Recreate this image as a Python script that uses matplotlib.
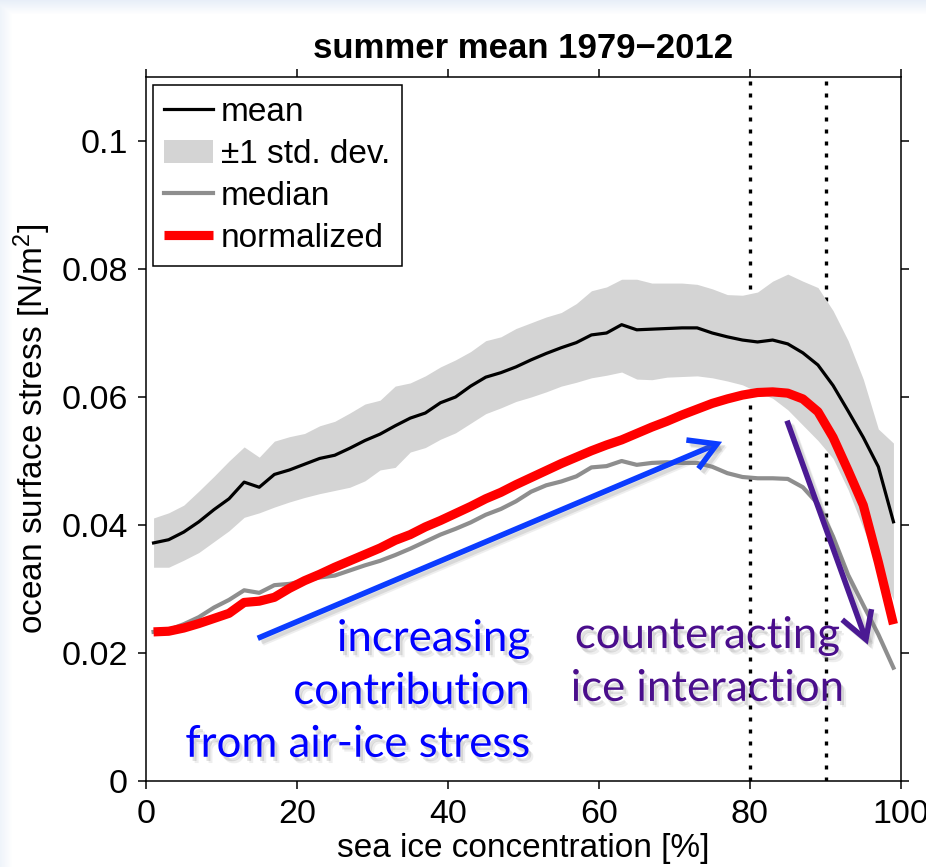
import numpy as np
import matplotlib
matplotlib.use("Agg")
import matplotlib.pyplot as plt
import matplotlib.patheffects as pe

# ---- data: sea ice concentration bins [%] and ocean surface stress [N/m^2]
concentration = list(range(1, 100, 2))

mean_stress = [0.0372, 0.0377, 0.0389, 0.0405, 0.0424, 0.0441, 0.0467, 0.0459, 0.0479, 0.0486,
               0.0495, 0.0504, 0.0509, 0.0520, 0.0532, 0.0542, 0.0555, 0.0567, 0.0575, 0.0591,
               0.0600, 0.0617, 0.0631, 0.0638, 0.0647, 0.0658, 0.0668, 0.0677, 0.0685, 0.0697,
               0.0700, 0.0713, 0.0705, 0.0706, 0.0707, 0.0708, 0.0708, 0.0700, 0.0694, 0.0689,
               0.0686, 0.0689, 0.0683, 0.0669, 0.0650, 0.0618, 0.0578, 0.0537, 0.0491, 0.0405]

std_upper = [0.0411, 0.0419, 0.0431, 0.0453, 0.0476, 0.0500, 0.0522, 0.0506, 0.0531, 0.0538,
             0.0543, 0.0555, 0.0562, 0.0575, 0.0589, 0.0595, 0.0617, 0.0622, 0.0633, 0.0647,
             0.0658, 0.0671, 0.0688, 0.0694, 0.0707, 0.0716, 0.0725, 0.0732, 0.0746, 0.0766,
             0.0772, 0.0784, 0.0784, 0.0778, 0.0778, 0.0778, 0.0776, 0.0769, 0.0760, 0.0759,
             0.0764, 0.0781, 0.0792, 0.0781, 0.0771, 0.0735, 0.0688, 0.0628, 0.0550, 0.0528]

std_lower = [0.0334, 0.0334, 0.0345, 0.0357, 0.0374, 0.0391, 0.0412, 0.0419, 0.0428, 0.0436,
             0.0443, 0.0449, 0.0454, 0.0459, 0.0469, 0.0486, 0.0490, 0.0514, 0.0521, 0.0534,
             0.0544, 0.0559, 0.0574, 0.0583, 0.0593, 0.0600, 0.0608, 0.0617, 0.0623, 0.0630,
             0.0634, 0.0639, 0.0628, 0.0627, 0.0631, 0.0632, 0.0633, 0.0630, 0.0625, 0.0619,
             0.0608, 0.0598, 0.0580, 0.0556, 0.0532, 0.0504, 0.0455, 0.0395, 0.0337, 0.0283]

median_stress = [0.0233, 0.0236, 0.0245, 0.0256, 0.0271, 0.0283, 0.0298, 0.0294, 0.0306, 0.0308,
                 0.0313, 0.0318, 0.0321, 0.0329, 0.0337, 0.0344, 0.0353, 0.0363, 0.0374, 0.0385,
                 0.0394, 0.0404, 0.0416, 0.0425, 0.0437, 0.0452, 0.0462, 0.0468, 0.0476, 0.0490,
                 0.0492, 0.0500, 0.0494, 0.0497, 0.0498, 0.0497, 0.0497, 0.0491, 0.0481, 0.0475,
                 0.0473, 0.0473, 0.0472, 0.0459, 0.0433, 0.0382, 0.0322, 0.0275, 0.0229, 0.0177]

normalized_stress = [0.0233, 0.0234, 0.0239, 0.0246, 0.0254, 0.0262, 0.0279, 0.0281, 0.0287, 0.0301,
                     0.0313, 0.0323, 0.0334, 0.0344, 0.0354, 0.0364, 0.0376, 0.0385, 0.0397, 0.0407,
                     0.0418, 0.0429, 0.0441, 0.0451, 0.0463, 0.0474, 0.0485, 0.0496, 0.0506, 0.0516,
                     0.0525, 0.0533, 0.0543, 0.0553, 0.0562, 0.0572, 0.0581, 0.0590, 0.0597, 0.0603,
                     0.0607, 0.0608, 0.0606, 0.0597, 0.0577, 0.0537, 0.0485, 0.0431, 0.0342, 0.0245]

threshold_lines = [80, 90]

x_ticks = [0, 20, 40, 60, 80, 100]
x_tick_labels = ["0", "20", "40", "60", "80", "100"]
y_ticks = [0, 0.02, 0.04, 0.06, 0.08, 0.1]
y_tick_labels = ["0", "0.02", "0.04", "0.06", "0.08", "0.1"]

# annotation arrows (tail, head) in data coordinates
blue_arrow = ((14.8, 0.0223), (76.3, 0.0530))
purple_arrow = ((84.9, 0.0563), (95.6, 0.0213))

# ---- styling
plt.rcParams["font.family"] = ["Liberation Sans", "DejaVu Sans"]
plt.rcParams["mathtext.fontset"] = "custom"
plt.rcParams["mathtext.rm"] = "Liberation Sans"
plt.rcParams["mathtext.it"] = "Liberation Sans"

fig = plt.figure(figsize=(9.26, 8.67), dpi=100)

# faint slide-style background band along the top and left edge
bg = fig.add_axes([0, 0, 1, 1], zorder=-10)
bg.set_axis_off()
H, W = 867, 926
img = np.ones((H, W, 3))
top = np.clip(1 - np.arange(H) / 14.0, 0, 1)[:, None]
left = np.clip(1 - np.arange(W) / 12.0, 0, 1)[None, :]
tint = np.array([0.90, 0.93, 0.97])
w = np.maximum(top * 0.9, left * 0.6)
img = img * (1 - w[..., None]) + tint * w[..., None]
bg.imshow(img, extent=[0, 1, 0, 1], aspect="auto")

ax = fig.add_axes([146 / 926, 1 - 781 / 867, 755 / 926, 704 / 867])

for xv in threshold_lines:
    ax.axvline(xv, color="black", lw=2.4, linestyle=(0, (1.2, 2.4)),
               dash_capstyle="butt", zorder=1)

ax.fill_between(concentration, std_lower, std_upper, color="#d4d4d4", lw=0,
                zorder=2, label="\u00b11 std. dev.")
ax.plot(concentration, mean_stress, color="black", lw=2.3, zorder=3, label="mean")
ax.plot(concentration, median_stress, color="#8e8e8e", lw=3.0, zorder=3, label="median")
ax.plot(concentration, normalized_stress, color="#ff0000", lw=6.6, zorder=4,
        solid_capstyle="butt", label="normalized")

ax.set_xlim(0, 100)
ax.set_ylim(0, 0.11)
ax.set_xticks(x_ticks)
ax.set_xticklabels(x_tick_labels)
ax.set_yticks(y_ticks)
ax.set_yticklabels(y_tick_labels)
ax.tick_params(direction="out", length=6, width=1.1, labelsize=24.5, pad=7,
               top=True, right=True, colors="black")
for s in ax.spines.values():
    s.set_linewidth(1.1)

ax.set_title("summer mean 1979\u22122012", fontsize=25, fontweight="bold", pad=14)
ax.set_xlabel("sea ice concentration [%]", fontsize=24, labelpad=2)
ax.set_ylabel("ocean surface stress [N/m$^2$]", fontsize=24, labelpad=6)

handles, labels = ax.get_legend_handles_labels()
order = [labels.index(k) for k in ["mean", "\u00b11 std. dev.", "median", "normalized"]]
leg = ax.legend([handles[i] for i in order], [labels[i] for i in order],
                loc="upper left", bbox_to_anchor=(0.009, 0.988), borderaxespad=0,
                fontsize=24, frameon=True, fancybox=False, edgecolor="black",
                framealpha=1, handlelength=1.45, handletextpad=0.25,
                labelspacing=0.33, borderpad=0.35)
leg.get_frame().set_linewidth(1.1)

# annotations with a soft drop shadow
def soft_shadow(scale=1.0):
    return [pe.SimpleLineShadow(offset=(2.5, -2.5), shadow_color="#777777", alpha=0.18 * scale),
            pe.SimpleLineShadow(offset=(3.5, -3.5), shadow_color="#777777", alpha=0.12 * scale),
            pe.Normal()]

def text_shadow():
    return [pe.SimplePatchShadow(offset=(2, -3), shadow_rgbFace="#777777", alpha=0.22),
            pe.SimplePatchShadow(offset=(3.5, -4.5), shadow_rgbFace="#777777", alpha=0.12),
            pe.Normal()]

arrow_kw = dict(arrowstyle="->,head_length=0.6,head_width=0.35", mutation_scale=32,
                shrinkA=0, shrinkB=0, lw=4.0, capstyle="butt", joinstyle="miter")

a1 = ax.annotate("", xy=blue_arrow[1], xytext=blue_arrow[0],
                 arrowprops=dict(color="#0b3cff", **arrow_kw), zorder=6)
a1.arrow_patch.set_path_effects(soft_shadow())
a2 = ax.annotate("", xy=purple_arrow[1], xytext=purple_arrow[0],
                 arrowprops=dict(color="#4b1a93", **arrow_kw), zorder=6)
a2.arrow_patch.set_path_effects(soft_shadow())

t1 = ax.text(50.9, 0.0140, "increasing\ncontribution\nfrom air-ice stress",
             ha="right", va="center", multialignment="right", color="#0000ff",
             fontsize=31.5, family=["Lato", "DejaVu Sans"], linespacing=1.36, zorder=7)
t1.set_path_effects(text_shadow())
t2 = ax.text(74.4, 0.0186, "counteracting\nice interaction",
             ha="center", va="center", multialignment="center", color="#4a0e8c",
             fontsize=31.5, family=["Lato", "DejaVu Sans"], linespacing=1.36, zorder=7)
t2.set_path_effects(text_shadow())

fig.savefig("out.png", dpi=100)
